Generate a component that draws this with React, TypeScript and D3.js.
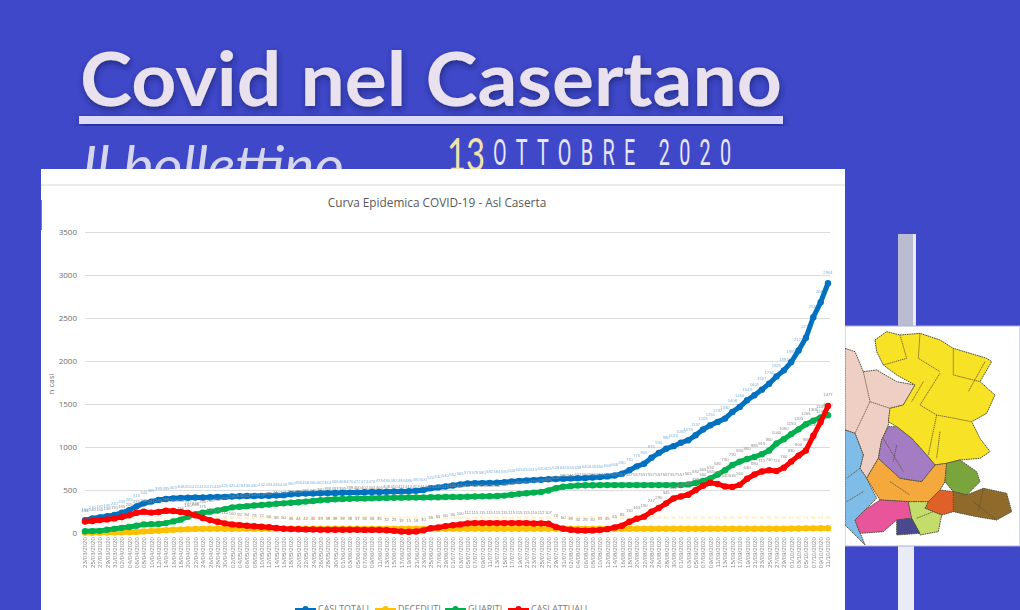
import React, { useEffect, useRef } from 'react';
import * as d3 from 'd3';

// tick every two days, 23/03/2020 -> 11/10/2020
const formatDay = d3.utcFormat('%d/%m/%Y');
const dateLabels = d3.utcDay.range(new Date(Date.UTC(2020, 2, 23)), new Date(Date.UTC(2020, 9, 12)), 2).map(d => formatDay(d));

const yTicks = [0, 500, 1000, 1500, 2000, 2500, 3000, 3500];

const casiTotali = [
  150, 170, 182, 195, 210, 235, 265, 310, 345, 365, 385, 395, 403, 408, 410, 412, 413, 415, 418, 420,
  425, 428, 430, 430, 432, 433, 436, 440, 450, 456, 458, 460, 462, 464, 466, 468, 470, 472, 474, 476,
  478, 480, 482, 484, 486, 490, 500, 520, 530, 540, 552, 565, 575, 578, 580, 582, 584, 590, 600, 605,
  610, 615, 620, 625, 628, 632, 635, 638, 640, 645, 650, 658, 668, 690, 730, 775, 805, 875, 930, 980,
  1010, 1050, 1079, 1137, 1203, 1253, 1292, 1330, 1408, 1466, 1543, 1601, 1667, 1736, 1821, 1891, 1988, 2123, 2270, 2510,
  2684, 2904,
];
const deceduti = [
  2, 3, 4, 5, 6, 8, 10, 13, 17, 22, 27, 32, 38, 42, 45, 47, 48, 49, 50, 50,
  50, 50, 50, 50, 50, 50, 50, 50, 50, 50, 50, 50, 50, 50, 50, 50, 50, 50, 50, 50,
  50, 50, 50, 50, 50, 50, 50, 50, 50, 50, 50, 50, 50, 50, 50, 50, 50, 50, 50, 50,
  50, 50, 50, 50, 50, 50, 50, 50, 50, 50, 50, 50, 50, 50, 50, 50, 50, 50, 50, 50,
  50, 50, 50, 50, 50, 50, 50, 50, 50, 50, 50, 50, 50, 50, 50, 50, 52, 52, 54, 54,
  55, 55,
];
const guariti = [
  20, 22, 25, 38, 48, 60, 70, 85, 100, 103, 105, 115, 135, 155, 190, 218, 235, 248, 262, 278,
  298, 305, 312, 320, 325, 332, 340, 345, 351, 358, 365, 372, 380, 386, 393, 395, 398, 400, 402, 404,
  406, 408, 410, 411, 412, 413, 414, 415, 416, 418, 420, 420, 422, 424, 426, 428, 430, 435, 445, 455,
  462, 470, 478, 495, 520, 538, 545, 552, 556, 556, 557, 557, 557, 557, 557, 557, 557, 557, 557, 557,
  557, 557, 565, 582, 605, 633, 680, 730, 790, 830, 860, 885, 915, 960, 1040, 1090, 1150, 1205, 1265, 1305,
  1345, 1370,
];
const casiAttuali = [
  134, 140, 150, 158, 170, 185, 205, 235, 248, 237, 245, 258, 255, 245, 232, 205, 175, 150, 130, 112,
  100, 92, 84, 78, 72, 66, 58, 50, 46, 44, 42, 40, 39, 38, 38, 38, 38, 37, 36, 36,
  35, 32, 25, 18, 15, 18, 30, 55, 65, 80, 90, 100, 112, 115, 115, 115, 115, 115, 115, 115,
  115, 110, 112, 107, 70, 50, 38, 30, 28, 30, 35, 45, 65, 85, 130, 165, 190, 247, 290, 345,
  402, 425, 445, 498, 550, 584, 570, 540, 535, 560, 630, 680, 715, 730, 720, 760, 830, 900, 960, 1130,
  1290, 1477,
];

const seriesNames = ['CASI TOTALI', 'DECEDUTI', 'GUARITI', 'CASI ATTUALI'];
const seriesValues = [casiTotali, deceduti, guariti, casiAttuali];
const seriesColors = ['#0070c0', '#ffc000', '#00b050', '#ff0000'];
const labelColors = ['#7fb2de', '#fbdf94', '#8c8c8c', '#8c8c8c'];

// map regions, in the coordinates of a 3x crop
const mapRegions: [string, number[][]][] = [
  ['#efcfc4', [[15, 370], [45, 380], [70, 440], [110, 435], [170, 470], [225, 480], [190, 540], [150, 550], [145, 600], [125, 645], [115, 700], [80, 760], [60, 730], [70, 690], [45, 625], [15, 615]]],
  ['#f8e227', [[105, 345], [140, 320], [180, 330], [240, 325], [300, 345], [340, 370], [440, 400], [455, 410], [420, 470], [465, 510], [440, 565], [395, 590], [420, 640], [450, 680], [420, 700], [360, 705], [320, 715], [285, 720], [260, 690], [215, 640], [170, 605], [145, 590], [150, 550], [190, 540], [225, 480], [170, 450], [130, 420], [110, 380]]],
  ['#80bce8', [[15, 615], [45, 625], [70, 690], [60, 730], [80, 760], [110, 820], [75, 855], [45, 885], [75, 960], [15, 900]]],
  ['#f5a93c', [[80, 760], [115, 700], [180, 760], [245, 770], [285, 720], [320, 715], [315, 770], [300, 795], [265, 830], [205, 830], [120, 825]]],
  ['#a47cc4', [[145, 605], [170, 605], [215, 640], [260, 690], [285, 720], [245, 770], [180, 760], [115, 700], [125, 645]]],
  ['#e8559a', [[120, 825], [205, 830], [215, 880], [170, 885], [130, 920], [60, 925], [45, 885], [75, 855]]],
  ['#7aa53e', [[320, 715], [360, 705], [410, 740], [420, 770], [380, 810], [340, 800], [315, 770]]],
  ['#8f6b2c', [[380, 810], [430, 790], [500, 805], [515, 860], [470, 885], [410, 875], [340, 860], [340, 800]]],
  ['#e0602a', [[265, 830], [300, 795], [340, 800], [340, 860], [305, 870], [255, 850]]],
  ['#c4dc6a', [[205, 830], [265, 830], [255, 850], [305, 870], [295, 920], [240, 930], [215, 880]]],
  ['#4a4a90', [[170, 885], [215, 880], [240, 925], [170, 930]]],
];
const mapBorders = [
  [[180, 330], [200, 400], [130, 420]], [[240, 325], [235, 400], [300, 440]], [[340, 370], [340, 450], [420, 470]],
  [[300, 445], [240, 540], [290, 570], [395, 590]], [[290, 570], [265, 690]], [[300, 620], [290, 700]],
  [[70, 440], [90, 530], [150, 550]], [[90, 530], [45, 625]], [[130, 640], [190, 740]], [[170, 660], [160, 710]],
  [[150, 770], [210, 810]], [[230, 880], [280, 860]], [[400, 830], [470, 885]], [[430, 790], [415, 860]],
  [[60, 730], [20, 760]], [[70, 800], [20, 830]], [[250, 470], [215, 530]], [[435, 410], [385, 500]],
];

const App: React.FC = () => {
  const svgRef = useRef<SVGSVGElement>(null);

  useEffect(() => {
    if (!svgRef.current) return;
    document.body.style.margin = '0';
    document.body.style.overflow = 'hidden';

    const svg = d3.select(svgRef.current);
    svg.selectAll('*').remove();

    const defs = svg.append('defs');
    const shadow = defs.append('filter').attr('id', 'headShadow').attr('x', '-5%').attr('y', '-20%').attr('width', '110%').attr('height', '140%');
    shadow.append('feDropShadow').attr('dx', 1).attr('dy', 3).attr('stdDeviation', 3).attr('flood-color', '#1c2270').attr('flood-opacity', 0.75);
    const soft = defs.append('filter').attr('id', 'soft');
    soft.append('feGaussianBlur').attr('stdDeviation', 0.35);

    // page background and header
    svg.append('rect').attr('width', 1020).attr('height', 610).attr('fill', '#3f48c8');

    svg.append('text')
      .attr('x', 80).attr('y', 106)
      .attr('textLength', 702)
      .attr('lengthAdjust', 'spacingAndGlyphs')
      .style('font-family', 'Lato, "Open Sans", sans-serif')
      .style('font-weight', 'bold')
      .style('font-size', '74px')
      .style('fill', '#e9e1ee')
      .attr('filter', 'url(#headShadow)')
      .text('Covid nel Casertano');

    svg.append('rect').attr('x', 79).attr('y', 116).attr('width', 704).attr('height', 8)
      .attr('fill', '#dcdaf6').attr('filter', 'url(#headShadow)');

    svg.append('text')
      .attr('x', 82).attr('y', 184)
      .attr('textLength', 262)
      .attr('lengthAdjust', 'spacingAndGlyphs')
      .style('font-family', 'Lato, sans-serif')
      .style('font-style', 'italic')
      .style('font-size', '52px')
      .style('fill', '#d5d5f0')
      .text('Il bollettino');

    svg.append('text')
      .attr('x', 447).attr('y', 171)
      .attr('textLength', 38)
      .attr('lengthAdjust', 'spacingAndGlyphs')
      .style('font-family', 'Lato, sans-serif')
      .style('font-weight', 400)
      .style('font-size', '46px')
      .style('fill', '#f3e3a8')
      .text('13');

    // narrow letters, wide tracking
    svg.append('text')
      .attr('transform', 'translate(493,165) scale(0.55,1)')
      .attr('textLength', 433)
      .attr('lengthAdjust', 'spacing')
      .style('font-family', 'Roboto, sans-serif')
      .style('font-size', '36px')
      .style('fill', '#e8e6f6')
      .text('OTTOBRE 2020');

    // pole and map panel on the right
    svg.append('rect').attr('x', 898).attr('y', 234).attr('width', 15).attr('height', 92).attr('fill', '#babdd2');
    svg.append('rect').attr('x', 913).attr('y', 234).attr('width', 3).attr('height', 92).attr('fill', '#e8eaf6');
    svg.append('rect').attr('x', 898).attr('y', 546).attr('width', 16).attr('height', 64).attr('fill', '#e9ebf7');
    svg.append('rect').attr('x', 845).attr('y', 326).attr('width', 175).attr('height', 220)
      .attr('fill', '#ffffff').attr('stroke', '#aab0e0');

    const map = svg.append('g').attr('transform', 'translate(840,225) scale(0.3333)').attr('filter', 'url(#soft)');
    map.selectAll('polygon').data(mapRegions).enter().append('polygon')
      .attr('points', d => d[1].map(p => p.join(',')).join(' '))
      .attr('fill', d => d[0])
      .attr('stroke', '#55503a')
      .attr('stroke-width', 3)
      .attr('stroke-dasharray', '5 2');
    map.selectAll('polyline').data(mapBorders).enter().append('polyline')
      .attr('points', d => d.map(p => p.join(',')).join(' '))
      .attr('fill', 'none')
      .attr('stroke', '#5a5230')
      .attr('stroke-width', 2.5)
      .attr('stroke-dasharray', '4 2');

    // chart panel
    svg.append('rect').attr('x', 41).attr('y', 169).attr('width', 804).attr('height', 441).attr('fill', '#ffffff');
    svg.append('rect').attr('x', 41).attr('y', 184).attr('width', 804).attr('height', 2).attr('fill', '#ececec');
    svg.append('rect').attr('x', 41).attr('y', 200).attr('width', 1).attr('height', 30).attr('fill', '#6f78b8');

    svg.append('text')
      .attr('x', 437).attr('y', 207)
      .attr('text-anchor', 'middle')
      .style('font-family', '"Open Sans", sans-serif')
      .style('font-size', '11.8px')
      .style('fill', '#595959')
      .text('Curva Epidemica COVID-19 - Asl Caserta');

    const xScale = d3.scalePoint<string>().domain(dateLabels).range([85, 828]);
    const yScale = d3.scaleLinear().domain([0, 3500]).range([533, 232]);

    // y axis and gridlines
    const yAxis = svg.append('g')
      .attr('transform', 'translate(85,0)')
      .call(d3.axisLeft(yScale).tickValues(yTicks).tickSize(-745).tickPadding(8).tickFormat(d => String(d)));
    yAxis.select('.domain').remove();
    yAxis.selectAll('.tick line').attr('stroke', '#dcdcdc');
    yAxis.selectAll('.tick').filter(d => d === 0).select('line').remove();
    yAxis.selectAll('text')
      .style('font-family', '"Open Sans", sans-serif')
      .style('font-size', '8px')
      .style('fill', '#6e6e6e');

    svg.append('text')
      .attr('transform', 'translate(54,384) rotate(-90)')
      .attr('text-anchor', 'middle')
      .style('font-family', '"Open Sans", sans-serif')
      .style('font-size', '8px')
      .style('fill', '#6e6e6e')
      .text('n casi');

    // x axis, rotated date labels
    const xAxis = svg.append('g')
      .attr('transform', 'translate(0,533)')
      .attr('filter', 'url(#soft)')
      .call(d3.axisBottom(xScale).tickSize(0).tickPadding(0));
    xAxis.select('.domain').remove();
    xAxis.selectAll('text')
      .attr('transform', 'rotate(-90)')
      .attr('x', -4).attr('y', 0).attr('dy', '0.32em')
      .attr('text-anchor', 'end')
      .style('font-family', '"Liberation Sans", sans-serif')
      .style('font-size', '6.2px')
      .style('fill', '#8c8c8c');

    // series
    const line = d3.line<number>()
      .x((_, i) => xScale(dateLabels[i]) as number)
      .y(d => yScale(d));

    seriesValues.forEach((values, s) => {
      const g = svg.append('g').attr('filter', 'url(#soft)');
      g.selectAll('text').data(values).enter().append('text')
        .attr('x', (_, i) => xScale(dateLabels[i]) as number)
        .attr('y', d => yScale(d) - 9.5)
        .attr('text-anchor', 'middle')
        .style('font-family', '"Liberation Sans", sans-serif')
        .style('font-size', '4.2px')
        .style('fill', labelColors[s])
        .text(d => d);
      g.append('path')
        .datum(values)
        .attr('fill', 'none')
        .attr('stroke', seriesColors[s])
        .attr('stroke-width', 5)
        .attr('d', line);
      g.selectAll('circle').data(values).enter().append('circle')
        .attr('cx', (_, i) => xScale(dateLabels[i]) as number)
        .attr('cy', d => yScale(d))
        .attr('r', 3.2)
        .attr('fill', seriesColors[s]);
    });

    // legend, cut by the bottom of the picture
    const legendX = [295, 375, 445, 508];
    seriesNames.forEach((name, s) => {
      const g = svg.append('g').attr('transform', `translate(${legendX[s]},609)`);
      g.append('line').attr('x1', 0).attr('x2', 21).attr('stroke', seriesColors[s]).attr('stroke-width', 2);
      g.append('circle').attr('cx', 10.5).attr('r', 3).attr('fill', seriesColors[s]);
      g.append('text')
        .attr('x', 23).attr('y', 3)
        .style('font-family', '"Open Sans", sans-serif')
        .style('font-size', '9px')
        .style('fill', '#7a7a7a')
        .text(name);
    });
  }, []);

  return <svg ref={svgRef} width={1020} height={610} style={{ position: 'absolute', left: 0, top: 0 }} />;
};

export default App;
